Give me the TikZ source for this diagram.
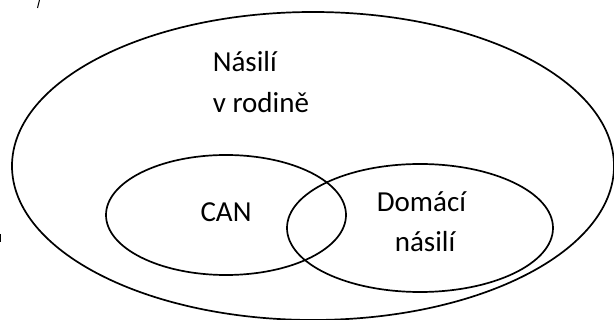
\documentclass[tikz,border=0pt]{standalone}
\usepackage{fontspec}
\setmainfont{Carlito}
\begin{document}
\begin{tikzpicture}[x=1pt,y=-1pt,line width=1.7pt,
  label/.style={font=\fontsize{29}{41}\selectfont,inner sep=0pt}]
  \useasboundingbox (0,0) rectangle (614,320);
  % outer set
  \draw (313,166) circle [x radius=301, y radius=154];
  \node[label,anchor=base west] (family) at (212,72) {Násilí};
  \node[label,anchor=base west] (familyb) at (212,113) {v rodině};
  % inner sets
  \draw (226,215) circle [x radius=120, y radius=60];
  \node[label,anchor=base] (can) at (226,222) {CAN};
  \draw (420,228) circle [x radius=133, y radius=64];
  \node[label,anchor=base west] (domestic) at (376,212) {Domácí};
  \node[label,anchor=base west] (domesticb) at (394,252) {násilí};
  % stray marks
  \draw[line width=1pt] (39.5,0) -- (37.5,8);
  \draw[line width=1pt] (0.7,234) -- (0.7,242);
\end{tikzpicture}
\end{document}
